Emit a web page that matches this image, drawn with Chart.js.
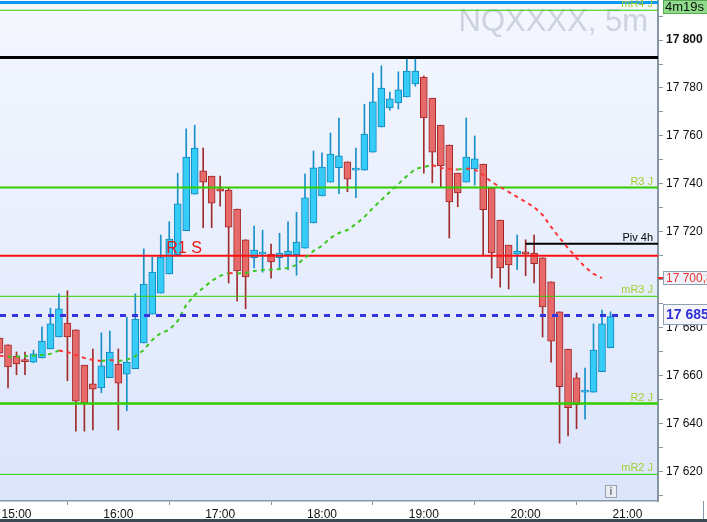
<!DOCTYPE html>
<html>
<head>
<meta charset="utf-8">
<script src="https://cdn.jsdelivr.net/npm/chart.js@4.4.1/dist/chart.umd.min.js"></script>
<style>
  html, body { margin: 0; padding: 0; background: #fff; }
  #wrap { width: 707px; height: 519px; border-bottom: 3px solid #3b4a52; }
  canvas { display: block; }
</style>
</head>
<body>
<div id="wrap"><canvas id="chart" width="707" height="519"></canvas></div>
<script>
// ---- data (5 min candles) ----
const times = [
  '14:50','14:55',
  '15:00','15:05','15:10','15:15','15:20','15:25','15:30','15:35','15:40','15:45','15:50','15:55',
  '16:00','16:05','16:10','16:15','16:20','16:25','16:30','16:35','16:40','16:45','16:50','16:55',
  '17:00','17:05','17:10','17:15','17:20','17:25','17:30','17:35','17:40','17:45','17:50','17:55',
  '18:00','18:05','18:10','18:15','18:20','18:25','18:30','18:35','18:40','18:45','18:50','18:55',
  '19:00','19:05','19:10','19:15','19:20','19:25','19:30','19:35','19:40','19:45','19:50','19:55',
  '20:00','20:05','20:10','20:15','20:20','20:25','20:30','20:35','20:40','20:45','20:50'
];
const opens = [
  17675.75, 17673,
  17668.25, 17666.5, 17665.75, 17667.5, 17671.25, 17676.25, 17682, 17679.25, 17664.5, 17656.75, 17655, 17659.25,
  17665, 17660.75, 17663, 17673.75, 17685.75, 17694.5, 17702.5, 17710.5, 17720.5, 17735.75, 17745.5, 17743.25,
  17738, 17737.5, 17729.5, 17716.75, 17709.25, 17710.75, 17710.75, 17709.25, 17710.5, 17710.5, 17713.25, 17723.75,
  17735, 17740.75, 17746.75, 17749.25, 17745.75, 17745.75, 17753.25, 17763.75, 17771.75, 17773.75, 17776.25, 17781.75,
  17784.5, 17775.75, 17764.5, 17756.25, 17744.5, 17740.75, 17746.25, 17748.25, 17738.25, 17725, 17714.5, 17710.75,
  17711.75, 17711.25, 17709.25, 17699.25, 17686.75, 17671.25, 17659.25, 17653.25, 17653.25, 17661.75, 17671.75
];
const highs = [
  17675.75, 17673,
  17670, 17670, 17670.75, 17680.5, 17688.25, 17694.25, 17695.5, 17679.25, 17664.5, 17671.25, 17678, 17678.75,
  17671.25, 17684.5, 17694.25, 17713, 17709.5, 17718.75, 17724.25, 17744.5, 17763, 17764.5, 17755, 17743.25,
  17743.25, 17738.25, 17729.5, 17716.75, 17722.5, 17720.75, 17715, 17719.5, 17724.25, 17728.25, 17744.25, 17753.75,
  17753, 17761.25, 17767.5, 17749.25, 17755, 17773.25, 17786.25, 17789.25, 17778.25, 17786.75, 17793, 17792,
  17785, 17775.75, 17764.5, 17756.25, 17744.5, 17767.5, 17760, 17748.25, 17738.25, 17725, 17714.5, 17718.75,
  17716.75, 17718.75, 17709.25, 17699.25, 17686.75, 17671.25, 17661.25, 17663.25, 17681.75, 17687.5, 17686.75
];
const lows = [
  17669.5, 17655,
  17660.5, 17660.5, 17665.5, 17667.5, 17671.25, 17676.25, 17658, 17637, 17637, 17637.5, 17653, 17659.25,
  17637.5, 17645.5, 17663, 17673.75, 17685.75, 17694.5, 17702.5, 17710.5, 17720.5, 17735.75, 17721.75, 17721.75,
  17730.75, 17698.75, 17691.25, 17688, 17705, 17703.25, 17700.75, 17704.25, 17704.25, 17702, 17713.25, 17723.75,
  17735, 17740.75, 17736, 17736.75, 17734.25, 17745.75, 17753.25, 17763.75, 17770.75, 17771.25, 17776.25, 17780.75,
  17744.5, 17740.5, 17738.75, 17717.5, 17730.5, 17740.75, 17739.5, 17710.5, 17700.75, 17697, 17696.25, 17704.25,
  17701.75, 17698.75, 17676.25, 17665.75, 17632, 17635, 17638, 17642, 17653.25, 17661.75, 17671.75
];
const closes = [
  17669.5, 17663.75,
  17665, 17666, 17669.25, 17674.5, 17681.75, 17688, 17676.25, 17649.5, 17648.75, 17654.5, 17664.25, 17670,
  17657, 17665.75, 17683.75, 17698.25, 17703.25, 17709.5, 17717, 17731.75, 17751.25, 17755, 17740.75, 17732,
  17737, 17722, 17703.75, 17701.25, 17712.5, 17711, 17707.5, 17711.25, 17712, 17715.75, 17734.25, 17746.75,
  17747, 17752.5, 17751.75, 17742, 17746, 17760.75, 17774.25, 17780, 17775.5, 17779.25, 17787, 17787,
  17767.5, 17753.25, 17747.5, 17732.5, 17736.25, 17751.25, 17750.5, 17729.25, 17711.25, 17705, 17706.25, 17712,
  17710.75, 17706.75, 17688.75, 17674.5, 17655.5, 17646.75, 17648, 17653.5, 17670.75, 17681.75, 17684.75
];
// moving average (dashed, green rising / red falling)
const maValues = [
  17668.5, 17668.0,
  17668.1, 17668.25, 17668.5, 17668.75, 17669.2, 17670.6, 17670.0, 17668.75, 17667.5, 17666.7, 17666.25, 17666.7,
  17666.25, 17666.7, 17668.3, 17670.8, 17675.0, 17677.9, 17679.2, 17682.9, 17689.6, 17693.75, 17696.7, 17699.6,
  17701.7, 17702.9, 17702.75, 17702.9, 17703.75, 17704.2, 17704.3, 17704.6, 17705.0, 17706.25, 17709.2, 17712.1,
  17714.2, 17717.5, 17719.6, 17720.8, 17723.3, 17726.25, 17730.0, 17733.3, 17736.7, 17740.0, 17743.3, 17746.25,
  17747.1, 17747.9, 17746.7, 17746.25, 17746.0, 17746.5, 17746.0, 17743.75, 17740.8, 17738.75, 17736.7, 17734.6,
  17732.5, 17730.4, 17727.1, 17722.1, 17717.5, 17713.3, 17709.2, 17705.4, 17702.5, 17700.75, null
];

// horizontal levels
const levelLabels = ['', 'mR4 J', '', 'R3 J', 'R1 S', 'mR3 J', 'R2 J', 'mR2 J'];
const levelValues = [17815.6, 17812.4, 17792.75, 17738.5, 17710.1, 17693.2, 17648.5, 17619.0];
const pivLabel = 'Piv 4h';
const pivValue = 17715.1;
const pivFrom = '20:00';
const lastPrice = 17685.25;
const countdown = '4m19s';
const symbolTitle = 'NQXXXX, 5m';
const xTickLabels = ['15:00', '16:00', '17:00', '18:00', '19:00', '20:00', '21:00'];

// ---- styles ----
const levelStyles = [
  { color: '#0a98f5', width: 3 },
  { color: '#33cc00', width: 1 },
  { color: '#000000', width: 3 },
  { color: '#33cc00', width: 2 },
  { color: '#ff1010', width: 2 },
  { color: '#33cc00', width: 1 },
  { color: '#33cc00', width: 2.5 },
  { color: '#33cc00', width: 1 }
];
const FONT = '"Liberation Sans", Arial, sans-serif';
const AXIS = '#8796a5';

const toMin = t => { const p = t.split(':'); return +p[0] * 60 + +p[1]; };
const fmtPrice = v => Math.floor(v / 1000) + ' ' + String(Math.round(v % 1000)).padStart(3, '0');

const xMin = 890.28, xMax = 1278;
const yMin = 17607.9, yMax = 17816.67;

const xs = times.map(toMin);
const up = closes.map((c, i) => c >= opens[i]);

const levelSets = levelValues.map((v, i) => ({
  type: 'line',
  data: [{ x: xMin, y: v }, { x: xMax, y: v }],
  borderColor: levelStyles[i].color,
  borderWidth: levelStyles[i].width,
  pointRadius: 0,
  order: 3
}));

const datasets = [
  {
    type: 'line',
    data: [{ x: xMin, y: lastPrice }, { x: xMax, y: lastPrice }],
    borderColor: '#3434e0',
    borderWidth: 3,
    borderDash: [6, 6],
    pointRadius: 0,
    order: 1
  },
  {
    type: 'line',
    data: xs.map((x, i) => ({ x: x, y: maValues[i] })),
    borderWidth: 2,
    borderDash: [4, 4],
    pointRadius: 0,
    spanGaps: false,
    segment: {
      borderColor: c => c.p1.parsed.y >= c.p0.parsed.y ? '#3cc81e' : '#ff3535'
    },
    order: 2
  },
  {
    type: 'line',
    data: [{ x: toMin(pivFrom), y: pivValue }, { x: xMax, y: pivValue }],
    borderColor: '#000',
    borderWidth: 2,
    pointRadius: 0,
    order: 3
  },
  ...levelSets,
  {
    type: 'bar',
    data: xs.map((x, i) => ({ x: x, y: [opens[i], closes[i]] })),
    backgroundColor: up.map(u => u ? '#35cdf7' : '#e66a6a'),
    borderColor: up.map(u => u ? '#1086c0' : '#a32626'),
    borderWidth: 1,
    borderSkipped: false,
    barThickness: 7,
    minBarLength: 2,
    grouped: false,
    order: 10
  },
  {
    type: 'bar',
    data: xs.map((x, i) => ({ x: x, y: [lows[i], highs[i]] })),
    backgroundColor: up.map(u => u ? '#1990c8' : '#a02c2c'),
    borderWidth: 0,
    barThickness: 1,
    grouped: false,
    order: 11
  }
];

const decor = {
  id: 'decor',
  beforeDraw(chart) {
    const { ctx, chartArea: a } = chart;
    ctx.save();
    ctx.fillStyle = '#fff';
    ctx.fillRect(0, 0, chart.width, chart.height);
    const g = ctx.createLinearGradient(0, a.top, 0, a.bottom);
    g.addColorStop(0, '#f4f7fe');
    g.addColorStop(1, '#dbe5fb');
    ctx.fillStyle = g;
    ctx.fillRect(a.left, a.top, a.right - a.left, a.bottom - a.top);
    ctx.font = '31px ' + FONT;
    ctx.fillStyle = '#cdd3de';
    ctx.textAlign = 'right';
    ctx.textBaseline = 'alphabetic';
    ctx.fillText(symbolTitle, a.right - 10, a.top + 31);
    ctx.restore();
  },
  afterDatasetsDraw(chart) {
    const { ctx, chartArea: a } = chart;
    const ys = chart.scales.y, xsc = chart.scales.x;
    ctx.save();
    ctx.textBaseline = 'alphabetic';
    levelLabels.forEach((lab, i) => {
      if (!lab) return;
      const y = ys.getPixelForValue(levelValues[i]);
      if (lab === 'R1 S') {
        ctx.font = '16px ' + FONT;
        ctx.fillStyle = '#ee1515';
        ctx.textAlign = 'left';
        ctx.fillText(lab, xsc.getPixelForValue(toMin('16:30')) - 3, y - 3);
      } else {
        ctx.font = '11px ' + FONT;
        ctx.fillStyle = '#a3cf35';
        ctx.textAlign = 'right';
        ctx.fillText(lab, a.right - 5, y - 3);
      }
    });
    ctx.font = '11px ' + FONT;
    ctx.fillStyle = '#000';
    ctx.textAlign = 'right';
    ctx.fillText(pivLabel, a.right - 5, ys.getPixelForValue(pivValue) - 3);
    ctx.restore();
  },
  afterDraw(chart) {
    const { ctx, chartArea: a } = chart;
    const ys = chart.scales.y;
    ctx.save();
    // MA value box
    const maLast = maValues.filter(v => v !== null).pop();
    let y = Math.round(ys.getPixelForValue(maLast));
    ctx.strokeStyle = '#ff2020'; ctx.lineWidth = 2;
    ctx.beginPath(); ctx.moveTo(a.right, y); ctx.lineTo(a.right + 5, y); ctx.stroke();
    ctx.fillStyle = '#eef2f8'; ctx.strokeStyle = '#8fa0b5'; ctx.lineWidth = 1;
    ctx.fillRect(663.5, y - 6.5, 50, 13); ctx.strokeRect(663.5, y - 6.5, 50, 13);
    ctx.font = '12px ' + FONT; ctx.fillStyle = '#f03030';
    ctx.textAlign = 'left'; ctx.textBaseline = 'middle';
    ctx.fillText(fmtPrice(Math.floor(maLast)) + ',' + Math.round((maLast % 1) * 10), 666, y + 1);
    // last price box
    y = Math.round(ys.getPixelForValue(lastPrice));
    ctx.fillStyle = '#f4f6fb'; ctx.strokeStyle = '#8fa0b5';
    ctx.fillRect(663.5, y - 10.5, 50, 20); ctx.strokeRect(663.5, y - 10.5, 50, 20);
    ctx.font = 'bold 14px ' + FONT; ctx.fillStyle = '#3030d8';
    ctx.fillText(fmtPrice(Math.round(lastPrice)), 666, y);
    // countdown
    ctx.fillStyle = '#8fdc8a'; ctx.strokeStyle = '#5aa655';
    ctx.fillRect(663.5, 0.5, 44, 13); ctx.strokeRect(663.5, 0.5, 44, 13);
    ctx.font = '13px ' + FONT; ctx.fillStyle = '#111';
    ctx.textBaseline = 'alphabetic';
    ctx.fillText(countdown, 665, 11);
    // info icon
    ctx.fillStyle = '#e9ecf0'; ctx.strokeStyle = '#9aa3ad';
    ctx.fillRect(605.5, 485.5, 11, 12); ctx.strokeRect(605.5, 485.5, 11, 12);
    ctx.font = 'bold 10px ' + FONT; ctx.fillStyle = '#6a737c'; ctx.textAlign = 'center';
    ctx.fillText('i', 611, 495);
    // corner box edge
    ctx.strokeStyle = AXIS;
    ctx.beginPath(); ctx.moveTo(703.5, a.bottom); ctx.lineTo(703.5, chart.height); ctx.stroke();
    ctx.restore();
  }
};

new Chart(document.getElementById('chart'), {
  type: 'bar',
  data: { datasets: datasets },
  options: {
    responsive: false,
    animation: false,
    layout: { padding: 0 },
    plugins: { legend: { display: false }, tooltip: { enabled: false } },
    scales: {
      x: {
        type: 'linear',
        min: xMin,
        max: xMax,
        offset: false,
        grid: { drawOnChartArea: false, tickLength: 4, color: AXIS },
        border: { color: AXIS, width: 1.5 },
        ticks: {
          autoSkip: false,
          includeBounds: false,
          maxRotation: 0,
          padding: 2,
          color: '#111',
          font: { family: FONT, size: 12 },
          callback: v => xTickLabels.find(t => toMin(t) === v) || ''
        },
        afterBuildTicks: s => { s.ticks = xTickLabels.map(t => ({ value: toMin(t) })); },
        afterFit: s => { s.height = 18; s.paddingLeft = 0; s.paddingRight = 0; }
      },
      y: {
        type: 'linear',
        position: 'right',
        min: yMin,
        max: yMax,
        grid: { drawOnChartArea: false, tickLength: 5, color: AXIS },
        border: { color: AXIS, width: 2 },
        ticks: {
          stepSize: 10,
          autoSkip: false,
          includeBounds: false,
          padding: 3,
          color: '#111',
          font: c => ({ family: FONT, size: 12, weight: c.tick && c.tick.value % 100 === 0 ? 'bold' : 'normal' }),
          callback: v => v % 20 === 0 ? fmtPrice(v) : ''
        },
        afterFit: s => { s.width = 49; s.paddingTop = 0; s.paddingBottom = 0; }
      }
    }
  },
  plugins: [decor]
});
</script>
</body>
</html>
